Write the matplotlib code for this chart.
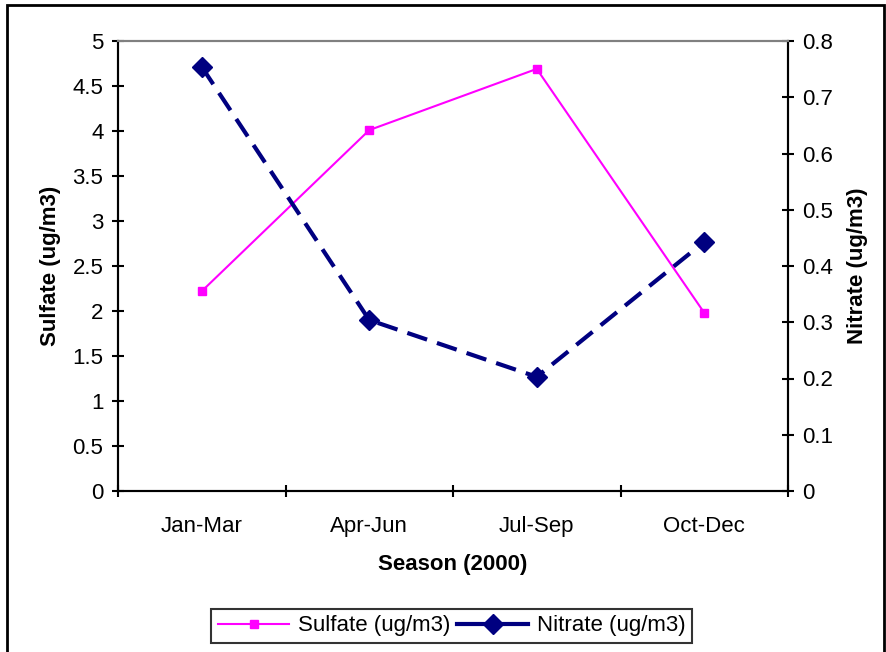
import matplotlib.pyplot as plt
from matplotlib.lines import Line2D
from matplotlib.patches import Rectangle

seasons = ["Jan-Mar", "Apr-Jun", "Jul-Sep", "Oct-Dec"]
sulfate = [2.22, 4.01, 4.69, 1.98]
nitrate = [0.754, 0.304, 0.203, 0.443]

plt.rcParams["font.family"] = ["Liberation Sans", "DejaVu Sans"]

fig = plt.figure(figsize=(8.86, 6.52), dpi=100)
ax = fig.add_axes([118 / 886, 1 - 491 / 652, 670 / 886, 450 / 652])
ax2 = ax.twinx()

x = range(len(seasons))
l1, = ax.plot(x, sulfate, color="#ff00ff", lw=1.5, marker="s", ms=6,
              mfc="#ff00ff", mec="#ff00ff", label="Sulfate (ug/m3)", zorder=3)
l2, = ax2.plot(x, nitrate, color="#000080", lw=3, ls=(0, (5, 2.5)), marker="D",
               ms=10, mfc="#000080", mec="#000080", label="Nitrate (ug/m3)")

ax.set_xlim(-0.5, 3.5)
ax.set_ylim(0, 5)
ax2.set_ylim(0, 0.8)
ax.set_yticks([0, 0.5, 1, 1.5, 2, 2.5, 3, 3.5, 4, 4.5, 5])
ax.set_yticklabels(["0", "0.5", "1", "1.5", "2", "2.5", "3", "3.5", "4", "4.5", "5"])
ax2.set_yticks([0, 0.1, 0.2, 0.3, 0.4, 0.5, 0.6, 0.7, 0.8])
ax2.set_yticklabels(["0", "0.1", "0.2", "0.3", "0.4", "0.5", "0.6", "0.7", "0.8"])
ax.set_xticks([-0.5, 0.5, 1.5, 2.5, 3.5])
ax.set_xticklabels([])
ax.set_xticks(list(x), minor=True)
ax.set_xticklabels(seasons, minor=True)
ax.tick_params(axis="x", which="minor", length=0, pad=18, labelsize=16)
ax.tick_params(axis="x", which="major", direction="inout", length=9, width=1.5)
ax.tick_params(axis="y", direction="inout", length=9, width=1.5, labelsize=16, pad=6)
ax2.tick_params(axis="y", direction="inout", length=9, width=1.5, labelsize=16, pad=6)

for a in (ax, ax2):
    a.spines["top"].set_color("#808080")
    a.spines["top"].set_linewidth(1.5)
    a.spines["left"].set_linewidth(1.5)
    a.spines["right"].set_linewidth(1.5)
    a.spines["bottom"].set_linewidth(1.5)

ax.set_xlabel("Season (2000)", fontsize=16, fontweight="bold", labelpad=12)
ax.set_ylabel("Sulfate (ug/m3)", fontsize=16, fontweight="bold", labelpad=8)
ax2.set_ylabel("Nitrate (ug/m3)", fontsize=16, fontweight="bold", labelpad=10)

# legend keys: nitrate key shown with a solid line
h1 = Line2D([], [], color="#ff00ff", lw=1.5, marker="s", ms=6)
h2 = Line2D([], [], color="#000080", lw=3, marker="D", ms=10)
fig.legend([h1, h2], [l1.get_label(), l2.get_label()], loc="center",
           bbox_to_anchor=(452 / 886, 1 - 626 / 652), ncol=2, fontsize=16,
           frameon=True, fancybox=False, edgecolor="black", handlelength=3.2,
           columnspacing=0.3, handletextpad=0.4, borderpad=0.3)
fig.legends[0].get_frame().set_linewidth(1.5)

# outer chart border
fig.patches.append(Rectangle((7 / 886, -0.05), 877 / 886, 1 - 5 / 652 + 0.05,
                             transform=fig.transFigure, fill=False,
                             edgecolor="black", lw=2))

fig.savefig("out.png", dpi=100)
